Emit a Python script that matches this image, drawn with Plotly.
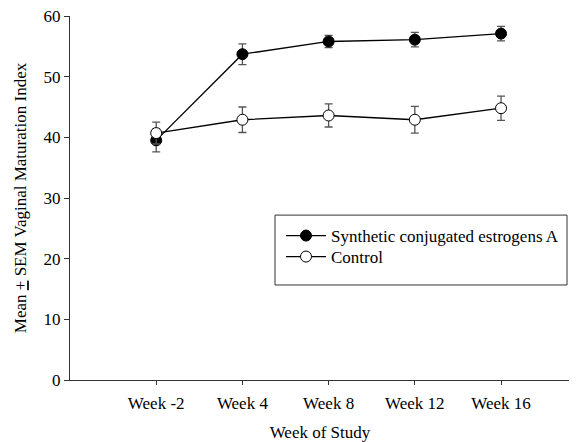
import plotly.graph_objects as go

weeks = ["Week -2", "Week 4", "Week 8", "Week 12", "Week 16"]
synthetic_mean = [39.5, 53.7, 55.8, 56.1, 57.1]
synthetic_sem = [1.9, 1.7, 1.0, 1.2, 1.2]
control_mean = [40.7, 42.9, 43.6, 42.9, 44.8]
control_sem = [1.8, 2.1, 1.9, 2.2, 2.0]
y_ticks = [0, 10, 20, 30, 40, 50, 60]

xpos = list(range(len(weeks)))
font = "Liberation Serif"

fig = go.Figure()
fig.add_trace(go.Scatter(
    x=xpos, y=synthetic_mean, mode="lines+markers",
    name="Synthetic conjugated estrogens A", legend="legend",
    line=dict(color="black", width=1.3),
    marker=dict(symbol="circle", size=11, color="black", line=dict(color="black", width=1)),
    error_y=dict(type="data", array=synthetic_sem, visible=True, color="#555555", thickness=1.3, width=4),
))
fig.add_trace(go.Scatter(
    x=xpos, y=control_mean, mode="lines+markers",
    name="Control", legend="legend2",
    line=dict(color="black", width=1.3),
    marker=dict(symbol="circle", size=11, color="white", line=dict(color="black", width=1)),
    error_y=dict(type="data", array=control_sem, visible=True, color="#555555", thickness=1.3, width=4),
))

# legend frame
fig.add_shape(type="rect", xref="paper", yref="paper",
              x0=0.41, x1=0.994, y0=0.261, y1=0.453,
              line=dict(color="#333333", width=1), fillcolor="white", layer="below")

leg_common = dict(xanchor="left", yanchor="middle", borderwidth=0,
                  bgcolor="rgba(0,0,0,0)", font=dict(family=font, size=17), itemwidth=40)

fig.update_layout(
    width=569, height=434,
    margin=dict(l=62, r=7, t=8, b=62),
    paper_bgcolor="white", plot_bgcolor="white",
    font=dict(family=font, size=17, color="black"),
    showlegend=True,
    legend=dict(x=0.422, y=(380 - 236) / 364, **leg_common),
    legend2=dict(x=0.422, y=(380 - 257) / 364, **leg_common),
    xaxis=dict(
        range=[-1, 4.8], tickvals=xpos, ticktext=weeks,
        showgrid=False, zeroline=False, showline=True, linecolor="#333333", linewidth=1,
        ticks="outside", ticklen=4, tickcolor="#333333", automargin=False,
        ticklabelstandoff=4,
        title=dict(text="Week of Study", standoff=20, font=dict(family=font, size=17)),
    ),
    yaxis=dict(
        range=[0, 60], tickvals=y_ticks,
        showgrid=False, zeroline=False, showline=True, linecolor="#333333", linewidth=1,
        ticks="outside", ticklen=5, tickcolor="#333333", automargin=False,
        ticklabeloverflow="allow",
        title=dict(text="Mean <u>+</u> SEM Vaginal Maturation Index", standoff=12, font=dict(family=font, size=17)),
    ),
)

fig.write_html("out.html")
